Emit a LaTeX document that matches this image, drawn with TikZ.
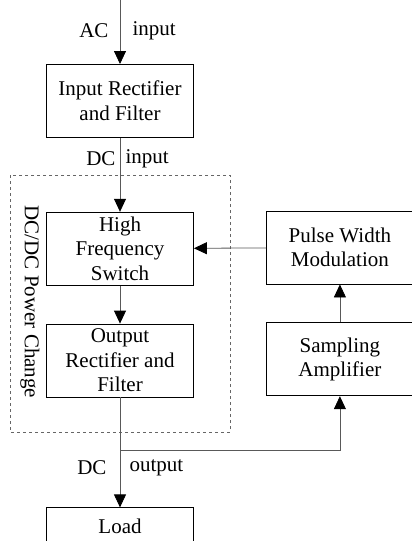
\documentclass[tikz,border=0pt]{standalone}
\usepackage{fontspec}
\setmainfont{Liberation Serif}
\usetikzlibrary{positioning,arrows.meta}

\begin{document}
\begin{tikzpicture}[x=1pt, y=1pt, node distance=74pt,
    font=\fontsize{21}{24.5}\selectfont,
    block/.style={draw, thick, minimum width=147pt, minimum height=73pt, align=center, inner sep=0pt},
    flow/.style={draw=black!65, thick, -{Triangle[length=13pt,width=12pt,color=black]}},
    wire/.style={draw=black!65, thick}]
  \useasboundingbox (0,0) rectangle (412,-541);
  % main column
  \coordinate (acin) at (120,0);
  \node[block, anchor=north] (inrect) at (120,-64) {Input Rectifier\\and Filter};
  \node[block, below=74pt of inrect] (hfs) {High\\Frequency\\Switch};
  \node[block, below=38pt of hfs] (outrect) {Output\\Rectifier and\\Filter};
  \node[block, minimum height=37pt, below=110pt of outrect] (load) {Load};
  % feedback column
  \node[block, anchor=west] (pwm) at (266,-247.5) {Pulse Width\\Modulation};
  \node[block, below=38pt of pwm] (samp) {Sampling\\Amplifier};
  % dc/dc group
  \draw[dashed, thick, black!60] (10,-175) rectangle (230,-432);
  \node[rotate=-90] (grp) at (30,-302) {DC/DC Power Change};
  % labels
  \node[anchor=east] (aclbl) at (112,-31) {AC};
  \node[anchor=west] (aclbl2) at (129,-31) {input};
  \node[anchor=east] (dclbl) at (119,-159) {DC};
  \node[anchor=west] (dclbl2) at (122,-159) {input};
  \node[anchor=east] (dcolbl) at (110,-468) {DC};
  \node[anchor=west] (dcolbl2) at (126,-468) {output};
  \coordinate (branch) at (120,-450);

  % Connections
  \draw[flow] (acin) -- (inrect);
  \draw[flow] (inrect) -- (hfs);
  \draw[flow] (hfs) -- (outrect);
  \draw[flow] (outrect) -- (load);
  \draw[flow] (samp) -- (pwm);
  \draw[flow] (pwm) -- (hfs);
  \draw[flow] (branch) -| (samp);
\end{tikzpicture}
\end{document}
